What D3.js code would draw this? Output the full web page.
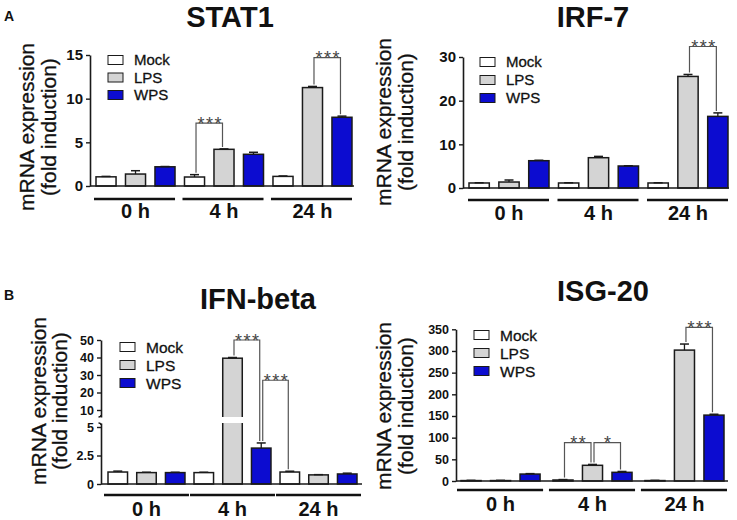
<!DOCTYPE html>
<html><head><meta charset="utf-8">
<script src="https://cdn.jsdelivr.net/npm/d3@7"></script>
<style>html,body{margin:0;padding:0;background:#fff}svg{display:block;font-family:"Liberation Sans",Arial,sans-serif}</style>
</head><body><svg id="c" width="737" height="520"></svg>
<script>
// ---------- DATA ----------
const groups = ["0 h", "4 h", "24 h"];
const seriesNames = ["Mock", "LPS", "WPS"];
const seriesColors = ["#ffffff", "#d4d4d4", "#0c0cd0"];
// values indexed [series][group]
const stat1Mean = [[1.05, 1.03, 1.1], [1.37, 4.2, 11.27], [2.2, 3.63, 7.87]];
const stat1Err  = [[0.05, 0.27, 0.05], [0.38, 0.05, 0.13], [0.03, 0.23, 0.13]];
const stat1Ticks = [0, 5, 10, 15];
const stat1Sig = [["4 h", "Mock", "4 h", "LPS", 7.2, "***"], ["24 h", "LPS", "24 h", "WPS", 14.7, "***"]];

const irf7Mean = [[1.15, 1.15, 1.15], [1.37, 6.94, 25.55], [6.25, 5.04, 16.4]];
const irf7Err  = [[0.05, 0.05, 0.05], [0.46, 0.3, 0.45], [0.1, 0.05, 0.8]];
const irf7Ticks = [0, 10, 20, 30];
const irf7Sig = [["24 h", "LPS", "24 h", "WPS", 32.4, "***"]];

const ifnMean = [[1.05, 1.0, 1.05], [1.0, 39.6, 0.8], [1.0, 3.15, 0.88]];
const ifnErr  = [[0.08, 0.03, 0.07], [0.03, 0.4, 0.02], [0.03, 0.45, 0.07]];
const ifnTicksLow = [0, 2.5, 5];
const ifnTicksHigh = [10, 20, 30, 40, 50];
const ifnSig = [["4 h", "LPS", "4 h", "WPS", 50, "***"], ["4 h", "WPS", "24 h", "Mock", 27, "***"]];

const isgMean = [[1, 2.3, 1], [1, 36.2, 302], [16, 20, 152]];
const isgErr  = [[0.5, 1, 0.5], [0.5, 2, 14], [1, 2, 2]];
const isgTicks = [0, 50, 100, 150, 200, 250, 300, 350];
const isgSig = [["4 h", "Mock", "4 h", "LPS", 88.4, "**"], ["4 h", "LPS", "4 h", "WPS", 88.4, "*"], ["24 h", "LPS", "24 h", "WPS", 354.6, "***"]];

// ---------- DRAW ----------
const svg = d3.select("#c");
const INK = "#1a1a1a";

function drawPanel(p) {
  const g = svg.append("g");
  const x0 = d3.scaleBand().domain(groups).range(p.band).paddingInner(p.padInner).paddingOuter(0);
  const x1 = d3.scaleBand().domain(seriesNames).range([0, x0.bandwidth()]).paddingInner(0.32).paddingOuter(0);
  const Y = p.Y;
  const base = Y(0);

  // title
  g.append("text").attr("x", p.title[1]).attr("y", p.title[2]).attr("text-anchor", "middle")
    .attr("font-size", 29).attr("font-weight", "bold").attr("fill", "#111").text(p.title[0]);

  // y label
  const yl = g.append("g").attr("transform", `translate(${p.ylab[0]},${p.ylab[2]}) rotate(-90)`);
  yl.append("text").attr("x", 0).attr("y", 0).attr("text-anchor", "middle").attr("font-size", 21).attr("fill", "#111")
    .attr("stroke", "#111").attr("stroke-width", 0.3).text("mRNA expression");
  yl.append("text").attr("x", 0).attr("y", p.ylab[1] - p.ylab[0]).attr("text-anchor", "middle").attr("font-size", 21).attr("fill", "#111")
    .attr("stroke", "#111").attr("stroke-width", 0.3).text("(fold induction)");

  // y axes
  p.axes.forEach(a => {
    const ax = g.append("g").attr("transform", `translate(${p.axisX},0)`)
      .call(d3.axisLeft(a.scale).tickValues(a.ticks).tickSize(4).tickSizeOuter(0).tickPadding(3).tickFormat(d3.format("~g")));
    ax.attr("font-size", p.tickFont).attr("font-family", '"Liberation Sans",Arial,sans-serif');
    ax.select(".domain").attr("stroke", INK).attr("stroke-width", 1.6);
    ax.selectAll(".tick line").attr("stroke", INK).attr("stroke-width", 1.4);
    ax.selectAll(".tick text").attr("font-size", p.tickFont).attr("font-weight", "bold").attr("fill", "#111");
  });
  if (p.breakMarks) {
    p.breakMarks.forEach(yb => {
      g.append("path").attr("d", `M${p.axisX},${yb[0]} q0,${yb[1]} ${-2.5},${yb[1]}`)
        .attr("fill", "none").attr("stroke", INK).attr("stroke-width", 1.4);
    });
  }

  // bars
  const bars = [];
  seriesNames.forEach((s, si) => groups.forEach((gr, gi) => {
    bars.push({ s, si, gr, gi, v: p.mean[si][gi], e: p.err[si][gi], x: x0(gr) + x1(s), w: x1.bandwidth() });
  }));
  g.selectAll("rect.bar").data(bars).join("rect").attr("class", "bar")
    .attr("x", d => d.x).attr("width", d => d.w)
    .attr("y", d => Y(d.v)).attr("height", d => base - Y(d.v))
    .attr("fill", d => seriesColors[d.si]).attr("stroke", INK).attr("stroke-width", 1.5);
  // break gap through tall bars
  if (p.gap) {
    g.selectAll("rect.gap").data(bars.filter(d => d.v > p.gap[1])).join("rect").attr("class", "gap")
      .attr("x", d => d.x - 1.5).attr("width", d => d.w + 3)
      .attr("y", p.Yhigh(p.gap[1])).attr("height", p.Ylow(p.gap[0]) - p.Yhigh(p.gap[1]))
      .attr("fill", "#fff");
  }
  // error bars
  const eb = g.selectAll("g.eb").data(bars).join("g").attr("class", "eb");
  eb.append("line").attr("x1", d => d.x + d.w / 2).attr("x2", d => d.x + d.w / 2)
    .attr("y1", d => Y(d.v)).attr("y2", d => Y(d.v + d.e)).attr("stroke", INK).attr("stroke-width", 1.3);
  eb.append("line").attr("x1", d => d.x + d.w / 2 - 4.5).attr("x2", d => d.x + d.w / 2 + 4.5)
    .attr("y1", d => Y(d.v + d.e)).attr("y2", d => Y(d.v + d.e)).attr("stroke", INK).attr("stroke-width", 1.5);

  // x axis line
  g.append("line").attr("x1", p.axisX).attr("x2", p.xEnd).attr("y1", base).attr("y2", base)
    .attr("stroke", INK).attr("stroke-width", 1.6);

  // group underlines and labels
  groups.forEach(gr => {
    g.append("line").attr("x1", x0(gr) + p.ulPad[0]).attr("x2", x0(gr) + x0.bandwidth() + p.ulPad[1])
      .attr("y1", p.ulY).attr("y2", p.ulY).attr("stroke", "#111").attr("stroke-width", 2.4);
    g.append("text").attr("x", x0(gr) + x0.bandwidth() / 2).attr("y", p.glY).attr("text-anchor", "middle")
      .attr("font-size", 20).attr("font-weight", "bold").attr("fill", "#111").text(gr);
  });

  // legend
  seriesNames.forEach((s, si) => {
    const cy = p.legend[1] + si * p.legend[2];
    g.append("rect").attr("x", p.legend[0]).attr("y", cy - 4.5).attr("width", 15).attr("height", 9)
      .attr("fill", seriesColors[si]).attr("stroke", INK).attr("stroke-width", 1);
    g.append("text").attr("x", p.legend[0] + 26).attr("y", cy).attr("dy", "0.36em")
      .attr("font-size", p.legendFont).attr("fill", "#111").attr("stroke", "#111").attr("stroke-width", 0.3).text(s);
  });

  // significance brackets
  const top = (gr, s) => { const si = seriesNames.indexOf(s), gi = groups.indexOf(gr); return Y(p.mean[si][gi] + p.err[si][gi]); };
  const cx = (gr, s) => x0(gr) + x1(s) + x1.bandwidth() / 2;
  p.sig.forEach(sg => {
    const lx = cx(sg[0], sg[1]) + 1.5, rx = cx(sg[2], sg[3]) - 1.5, ly = Y(sg[4]);
    g.append("path").attr("d", `M${lx},${top(sg[0], sg[1]) - 2}V${ly}H${rx}V${top(sg[2], sg[3]) - 2}`)
      .attr("fill", "none").attr("stroke", "#555").attr("stroke-width", 1.2);
    g.append("text").attr("x", (lx + rx) / 2 + 1).attr("y", ly + 6.5).attr("text-anchor", "middle")
      .attr("font-size", 18).attr("letter-spacing", 1.5).attr("fill", "#444").text(sg[5]);
  });
}

// panel letters
svg.append("text").attr("x", 4).attr("y", 21).attr("font-size", 14).attr("font-weight", "bold").attr("fill", "#111").text("A");
svg.append("text").attr("x", 4).attr("y", 300).attr("font-size", 14).attr("font-weight", "bold").attr("fill", "#111").text("B");

// STAT1
const yStat1 = d3.scaleLinear().domain([0, 15]).range([186, 55]);
drawPanel({ title: ["STAT1", 230, 27], Y: yStat1, axes: [{ scale: yStat1, ticks: stat1Ticks }],
  axisX: 90, band: [96, 352], padInner: 0.107, xEnd: 354, tickFont: 15,
  mean: stat1Mean, err: stat1Err, sig: stat1Sig, legend: [108, 60, 17.5], legendFont: 15,
  ulY: 199, ulPad: [-2, 0], glY: 218, ylab: [34, 56, 127] });

// IRF-7
const yIrf = d3.scaleLinear().domain([0, 30]).range([188, 57]);
drawPanel({ title: ["IRF-7", 593, 27], Y: yIrf, axes: [{ scale: yIrf, ticks: irf7Ticks }],
  axisX: 463, band: [469, 728], padInner: 0.106, xEnd: 729, tickFont: 15,
  mean: irf7Mean, err: irf7Err, sig: irf7Sig, legend: [480, 62, 18], legendFont: 15,
  ulY: 200, ulPad: [-1, 0], glY: 220, ylab: [391, 413, 122] });

// IFN-beta (broken axis)
const yLow = d3.scaleLinear().domain([0, 5]).range([484, 427]);
const yHigh = d3.scaleLinear().domain([10, 50]).range([410, 340]);
const ifnBreak = [5.35, 6];
const yIfn = v => v <= ifnBreak[0] ? yLow(v) : yHigh(Math.max(v, ifnBreak[1]));
drawPanel({ title: ["IFN-beta", 258, 309], Y: yIfn, Ylow: yLow, Yhigh: yHigh, gap: ifnBreak,
  axes: [{ scale: yLow.copy().domain([0, ifnBreak[0]]).range([yLow(0), yLow(ifnBreak[0])]), ticks: ifnTicksLow },
         { scale: yHigh.copy().domain([ifnBreak[1], 50]).range([yHigh(ifnBreak[1]), yHigh(50)]), ticks: ifnTicksHigh }],
  breakMarks: [[yHigh(ifnBreak[1]) - 2, 2], [yLow(ifnBreak[0]) + 2, -2]],
  axisX: 101, band: [108, 357], padInner: 0.105, xEnd: 362, tickFont: 12.5,
  mean: ifnMean, err: ifnErr, sig: ifnSig, legend: [120, 347, 18], legendFont: 15.5,
  ulY: 495, ulPad: [-4, 4], glY: 516, ylab: [46, 67, 401] });

// ISG-20
const yIsg = d3.scaleLinear().domain([0, 350]).range([481, 329.3]);
drawPanel({ title: ["ISG-20", 603, 301], Y: yIsg, axes: [{ scale: yIsg, ticks: isgTicks }],
  axisX: 456, band: [461, 724], padInner: 0.14, xEnd: 728, tickFont: 12.5,
  mean: isgMean, err: isgErr, sig: isgSig, legend: [474, 335, 18], legendFont: 15.5,
  ulY: 490, ulPad: [-4, 3], glY: 511, ylab: [391, 413, 406] });
</script>
</body></html>
